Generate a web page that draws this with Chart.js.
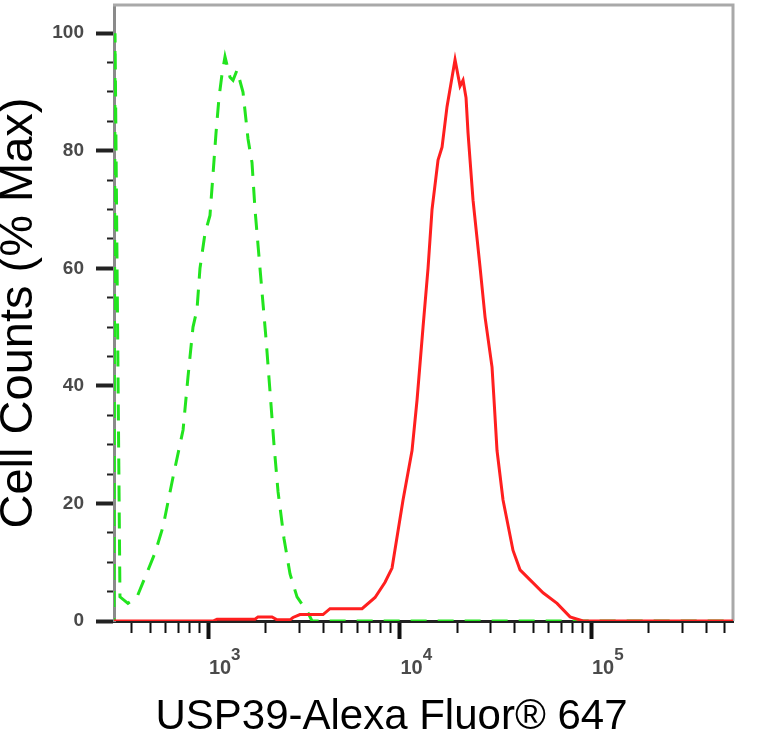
<!DOCTYPE html>
<html>
<head>
<meta charset="utf-8">
<title>USP39 flow cytometry histogram</title>
<script src="https://cdn.jsdelivr.net/npm/chart.js@4.4.1/dist/chart.umd.min.js"></script>
<style>
  html, body { margin: 0; padding: 0; background: #fff; }
</style>
</head>
<body>
<canvas id="flowChart" width="783" height="738"></canvas>
<script>
// USP39 stained cells (red, solid)
const usp39Intensity = [323, 1062, 1114, 1760, 1824, 2159, 2293, 2681, 2779, 3023, 3986, 4336, 6372, 7451, 8401, 9139,
  10430, 11623, 12344, 13267, 14087, 14780, 15888, 16672, 17701, 19492, 20700, 21460, 22250, 22790, 24200,
  26330, 27960, 30410, 31150, 32290, 34710, 39140, 42580, 48030, 56150, 66450, 77680, 90830, 551000];
const usp39Counts = [0, 0, 0.3, 0.3, 0.7, 0.7, 0.2, 0.2, 0.6, 1.1, 1.1, 2.1, 2.1, 4, 6.6, 9,
  20.6, 29, 37.6, 50, 60, 70, 78.4, 80.6, 87.5, 95.5, 91, 92, 89, 83, 71.6,
  60.2, 51.7, 43.2, 37.6, 29, 20.6, 12, 8.7, 7, 4.8, 3, 0.7, 0, 0];

// isotype control (green, dashed)
const isotypeIntensity = [323, 327, 347, 382, 426, 480, 529, 582, 657, 741, 786, 835, 876, 908, 965,
  1024, 1062, 1101, 1141, 1183, 1227, 1303, 1351, 1417, 1523, 1618, 1697, 1760, 1824, 1914,
  2009, 2108, 2211, 2321, 2494, 2681, 2916, 3328, 3493, 551000];
const isotypeCounts = [0, 100, 4.1, 3, 4.1, 8.2, 11.6, 16, 24.5, 32.5, 41.5, 50, 53, 60, 66,
  69, 76, 83, 89, 93, 96, 92.5, 92, 93.7, 90, 82, 78, 70, 64, 56,
  48, 39, 30, 22, 14, 8, 4.1, 1.4, 0, 0];

// axis ticks
const xTicks = [400, 500, 600, 700, 800, 900, 1000, 2000, 3000, 4000, 5000, 6000, 7000, 8000, 9000,
  10000, 20000, 30000, 40000, 50000, 60000, 70000, 80000, 90000, 100000, 200000, 300000, 400000, 500000];
const xMajor = [1000, 10000, 100000];
const xTickBase = "10";
const xTickExponents = ["3", "4", "5"];
const yTicks = [0, 5, 10, 15, 20, 25, 30, 35, 40, 45, 50, 55, 60, 65, 70, 75, 80, 85, 90, 95, 100];
const yMajor = [0, 20, 40, 60, 80, 100];

const toPoints = (xs, ys) => xs.map((x, i) => ({ x: x, y: ys[i] }));

const tickColor = "#4a4a4a";
const xLabelOffset = 12;

// grey frame on top and right, plus the raised exponents of the x labels
const framePlugin = {
  id: "frame",
  beforeDatasetsDraw(chart) {
    const { ctx, chartArea: a } = chart;
    ctx.save();
    ctx.strokeStyle = "#a9a9a9";
    ctx.lineWidth = 3;
    ctx.beginPath();
    ctx.moveTo(a.left - 1, a.top);
    ctx.lineTo(a.right, a.top);
    ctx.lineTo(a.right, a.bottom);
    ctx.stroke();
    ctx.restore();
  },
  afterDraw(chart) {
    const { ctx } = chart;
    const s = chart.scales.x;
    ctx.save();
    ctx.font = "bold 20px 'Liberation Sans'";
    const baseW = ctx.measureText(xTickBase).width;
    ctx.font = "bold 17px 'Liberation Sans'";
    ctx.fillStyle = tickColor;
    ctx.textAlign = "left";
    ctx.textBaseline = "middle";
    const labelMid = s.top + 18 + 17 + 20 * 1.2 / 2;
    xMajor.forEach((v, i) => {
      const px = s.getPixelForValue(v) + xLabelOffset + baseW / 2;
      ctx.fillText(xTickExponents[i], px, labelMid - 13);
    });
    ctx.restore();
  }
};

new Chart(document.getElementById("flowChart"), {
  type: "line",
  data: {
    datasets: [{
      label: "USP39",
      data: toPoints(usp39Intensity, usp39Counts),
      borderColor: "#ff1f1f",
      borderWidth: 3,
      pointRadius: 0,
      tension: 0
    }, {
      label: "Isotype control",
      data: toPoints(isotypeIntensity, isotypeCounts),
      borderColor: "#22e41e",
      borderWidth: 3,
      borderDash: [16, 11],
      borderDashOffset: 13,
      pointRadius: 0,
      tension: 0
    }]
  },
  options: {
    responsive: false,
    animation: false,
    layout: { padding: { top: 5, right: 0, left: 0, bottom: 0 } },
    plugins: {
      legend: { display: false },
      tooltip: { enabled: false },
      title: {
        display: true,
        position: "bottom",
        text: "USP39-Alexa Fluor® 647",
        color: "#000",
        font: { family: "Liberation Sans", size: 42, weight: "normal", lineHeight: 1 },
        padding: { top: 20, bottom: 0 }
      }
    },
    scales: {
      x: {
        type: "logarithmic",
        min: 323,
        max: 551000,
        afterBuildTicks: s => { s.ticks = xTicks.map(v => ({ value: v })); },
        afterFit: s => { s.height = 55; s.paddingLeft = 0; s.paddingRight = 0; },
        border: { color: "#222", width: 3 },
        grid: {
          drawOnChartArea: false,
          tickLength: 18,
          tickColor: "#111",
          tickWidth: c => xMajor.includes(c.tick.value) ? 4 : 2,
          tickBorderDash: c => xMajor.includes(c.tick.value) ? [] : [10, 100]
        },
        ticks: {
          autoSkip: false,
          maxRotation: 0,
          minRotation: 0,
          padding: 17,
          labelOffset: xLabelOffset,
          color: tickColor,
          font: { family: "Liberation Sans", size: 20, weight: "bold" },
          callback: v => xMajor.includes(v) ? xTickBase : ""
        }
      },
      y: {
        type: "linear",
        min: 0,
        max: 104.8,
        afterBuildTicks: s => { s.ticks = yTicks.map(v => ({ value: v })); },
        afterFit: s => { s.width = 114; s.paddingTop = 0; s.paddingBottom = 0; },
        border: { color: "#8a8a8a", width: 3 },
        grid: {
          drawOnChartArea: false,
          tickLength: 18,
          tickColor: "#222",
          tickWidth: c => yMajor.includes(c.tick.value) ? 4 : 2,
          tickBorderDash: c => yMajor.includes(c.tick.value) ? [] : [0, 11, 7, 100]
        },
        ticks: {
          autoSkip: false,
          padding: 12,
          color: tickColor,
          font: { family: "Liberation Sans", size: 19, weight: "bold" },
          callback: v => yMajor.includes(v) ? String(v) : ""
        },
        title: {
          display: true,
          text: "Cell Counts (% Max)",
          color: "#000",
          padding: 0,
          font: { family: "Liberation Sans", size: 47, lineHeight: 0.8 }
        }
      },
      yRight: {
        position: "right",
        display: true,
        grid: { display: false, drawTicks: false },
        border: { display: false },
        ticks: { display: false },
        afterFit: s => { s.width = 50; }
      }
    }
  },
  plugins: [framePlugin]
});
</script>
</body>
</html>
